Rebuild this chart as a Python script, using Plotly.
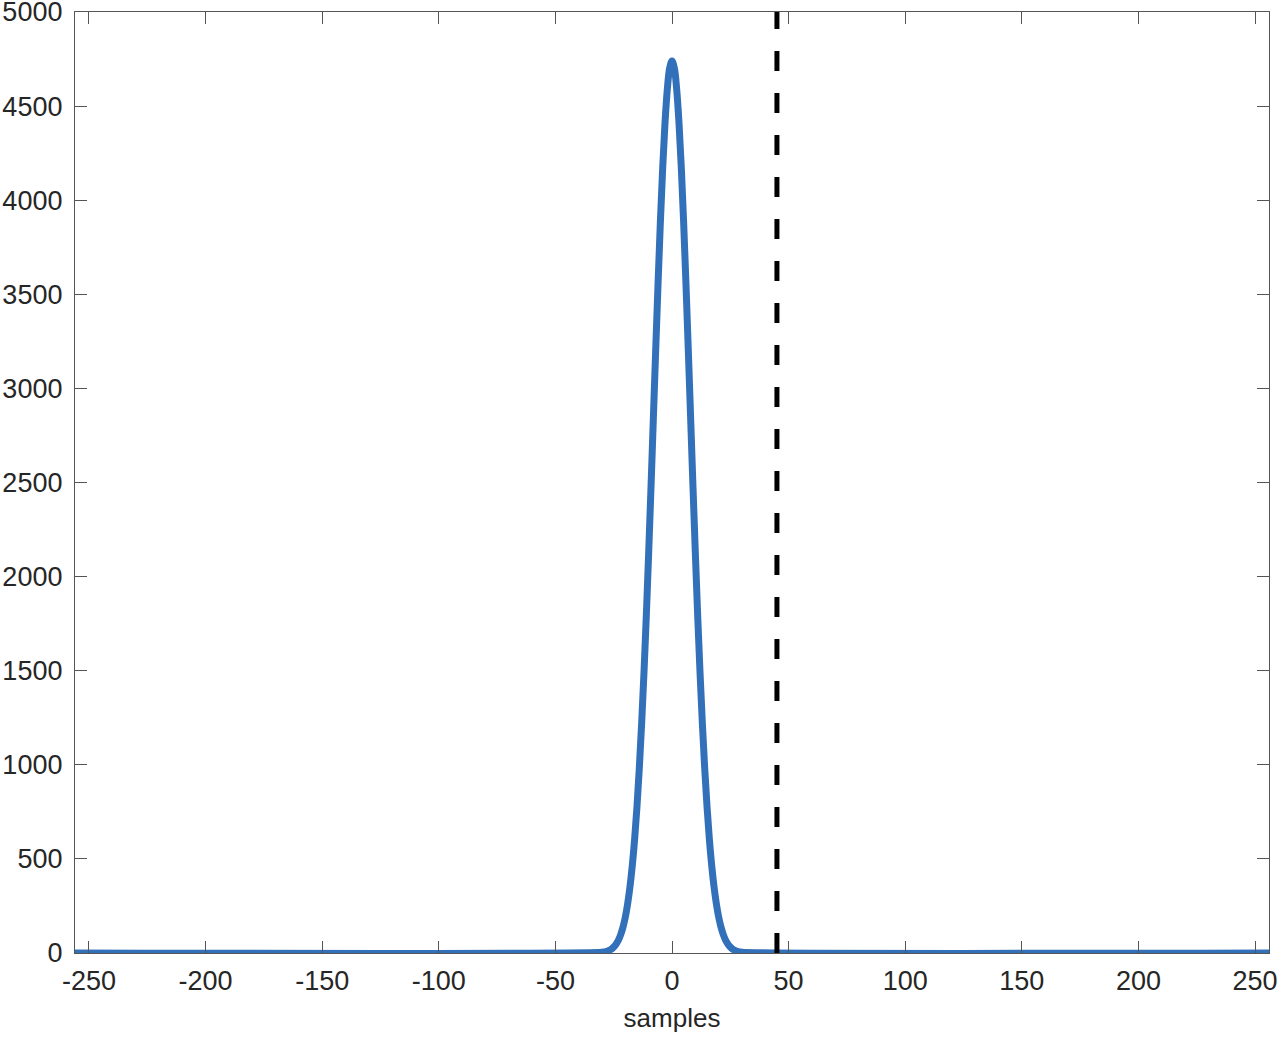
import plotly.graph_objects as go

# Sample positions and amplitude (peak ~4740 at 0)
samples = [-256, -30, -29, -28, -27, -26, -25, -24, -23, -22, -21, -20, -19, -18, -17, -16,
           -15, -14, -13, -12, -11, -10, -9, -8, -7, -6, -5, -4, -3, -2, -1, 0,
           1, 2, 3, 4, 5, 6, 7, 8, 9, 10, 11, 12, 13, 14, 15, 16, 17, 18, 19, 20,
           21, 22, 23, 24, 25, 26, 27, 28, 29, 30, 256]
amplitude = [0, 4, 6, 9, 14, 21, 32, 47, 68, 98, 138, 192, 263, 354, 468, 609,
             781, 986, 1224, 1495, 1797, 2127, 2477, 2838, 3201, 3552, 3880, 4170, 4410, 4591, 4702, 4740,
             4702, 4591, 4410, 4170, 3880, 3552, 3201, 2838, 2477, 2127, 1797, 1495, 1224, 986, 781, 609,
             468, 354, 263, 192, 138, 98, 68, 47, 32, 21, 14, 9, 6, 4, 0]

marker_x = [45, 45]
marker_y = [0, 5000]

x_ticks = [-250, -200, -150, -100, -50, 0, 50, 100, 150, 200, 250]
x_ticktext = ["-250", "-200", "-150", "-100", "-50", "0", "50", "100", "150", "200", "250"]
y_ticks = [0, 500, 1000, 1500, 2000, 2500, 3000, 3500, 4000, 4500, 5000]

FONT = "Liberation Sans, Arial, Helvetica"

fig = go.Figure()
fig.add_trace(go.Scatter(x=samples, y=amplitude, mode="lines", line_shape="spline",
                         line=dict(color="#3271ba", width=7), showlegend=False))
fig.add_trace(go.Scatter(x=marker_x, y=marker_y, mode="lines",
                         line=dict(color="black", width=5, dash="20px,22px"), showlegend=False))

axis_common = dict(showline=True, linecolor="#555555", linewidth=1.3, mirror="allticks",
                   ticks="inside", ticklen=12, tickwidth=1.3, tickcolor="#555555",
                   showgrid=False, zeroline=False, automargin=False,
                   ticklabeloverflow="allow",
                   tickfont=dict(family=FONT, size=27, color="#262626"))

fig.update_xaxes(range=[-256, 256], tickvals=x_ticks, ticktext=x_ticktext, ticklabelstandoff=3,
                 title=dict(text="samples", font=dict(family=FONT, size=26, color="#262626"),
                            standoff=14),
                 **axis_common)
fig.update_yaxes(range=[0, 5000], tickvals=y_ticks, ticktext=[str(v) for v in y_ticks],
                 ticklabelstandoff=6, **axis_common)

fig.update_layout(width=1280, height=1038, margin=dict(l=75, r=11, t=12, b=85, autoexpand=False),
                  plot_bgcolor="white", paper_bgcolor="white")

fig.write_html("out.html", config={"displayModeBar": False},
               post_script="document.body.style.margin='0';document.body.style.overflow='hidden';")
